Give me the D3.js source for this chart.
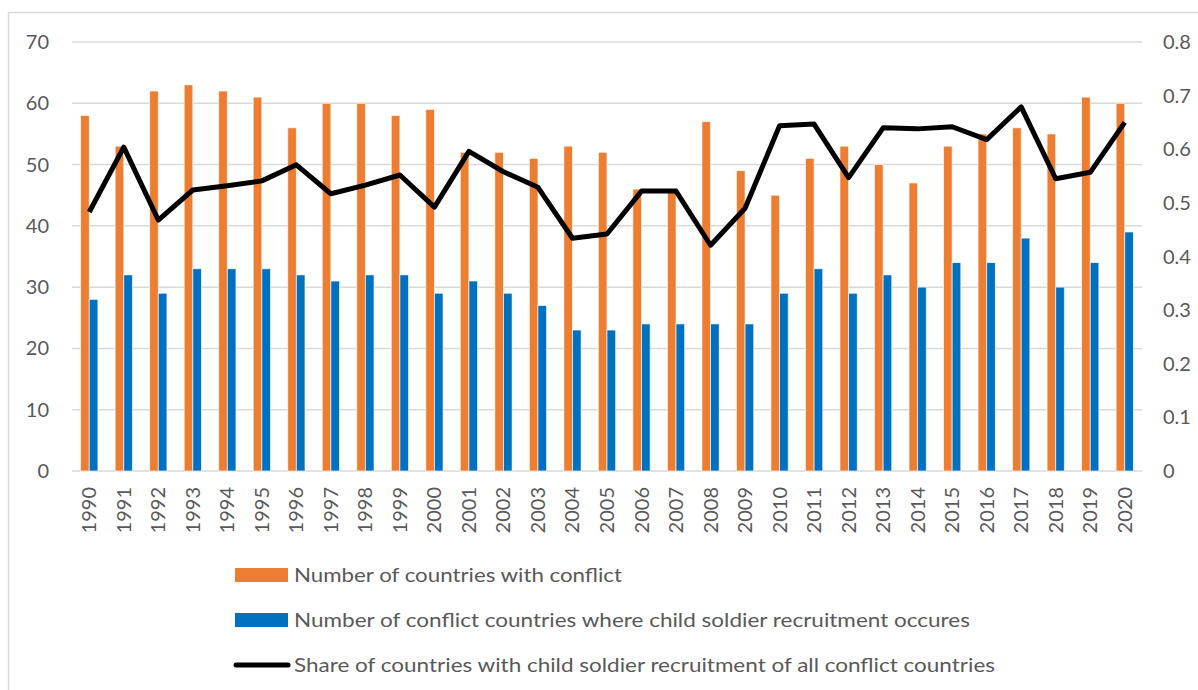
<html>
<head>
  <meta charset="utf-8">
  <script src="https://d3js.org/d3.v7.min.js"></script>
  <style>
    body { margin: 0; background: #fff; }
    text { font-family: Lato, "Open Sans", sans-serif; fill: #595959; }
  </style>
</head>
<body>
<div id="chartContainer"></div>
<script>
"use strict";

var years = ["1990","1991","1992","1993","1994","1995","1996","1997","1998","1999",
             "2000","2001","2002","2003","2004","2005","2006","2007","2008","2009",
             "2010","2011","2012","2013","2014","2015","2016","2017","2018","2019","2020"];

// countries with conflict
var conflict = [58,53,62,63,62,61,56,60,60,58,59,52,52,51,53,52,46,46,57,49,45,51,53,50,47,53,55,56,55,61,60];

// conflict countries with child soldier recruitment
var recruit = [28,32,29,33,33,33,32,31,32,32,29,31,29,27,23,23,24,24,24,24,29,33,29,32,30,34,34,38,30,34,39];

// share (right axis)
var share = [0.483,0.604,0.468,0.524,0.532,0.541,0.571,0.517,0.533,0.552,0.492,0.596,0.558,0.529,0.434,
             0.442,0.522,0.522,0.421,0.490,0.644,0.647,0.547,0.640,0.638,0.642,0.618,0.679,0.545,0.557,0.650];

var leftTicks = [0,10,20,30,40,50,60,70];
var rightTicks = [0,0.1,0.2,0.3,0.4,0.5,0.6,0.7,0.8];

var legendItems = [
  {label: "Number of countries with conflict", type: "bar", color: "#ED7D31", len: 328},
  {label: "Number of conflict countries where child soldier recruitment occures", type: "bar", color: "#0070C0", len: 676},
  {label: "Share of countries with child soldier recruitment of all conflict countries", type: "line", color: "#000", len: 701}
];

var W = 1198, H = 690;
var plot = {left: 72, right: 1142, top: 42, bottom: 471};

var svg = d3.select("#chartContainer").append("svg")
    .attr("width", W).attr("height", H);

// chart border (runs off the right and bottom)
svg.append("rect")
    .attr("x", 8.5).attr("y", 12.5)
    .attr("width", W + 10).attr("height", H + 10)
    .attr("fill", "none").attr("stroke", "#D9D9D9").attr("stroke-width", 1.5);

var x = d3.scaleBand().domain(years).range([plot.left, plot.right]).padding(0);
var yL = d3.scaleLinear().domain([0, 70]).range([plot.bottom, plot.top]);
var yR = d3.scaleLinear().domain([0, 0.8]).range([plot.bottom, plot.top]);

// gridlines
svg.append("g").selectAll("line")
    .data(leftTicks)
    .enter().append("line")
    .attr("x1", plot.left).attr("x2", plot.right)
    .attr("y1", function (d) { return yL(d); })
    .attr("y2", function (d) { return yL(d); })
    .attr("stroke", "#D9D9D9").attr("stroke-width", 1.5);

// left axis labels
svg.append("g").selectAll("text")
    .data(leftTicks)
    .enter().append("text")
    .attr("x", 49)
    .attr("y", function (d) { return yL(d); })
    .attr("dy", "0.35em")
    .attr("text-anchor", "end")
    .style("font-size", "20px")
    .text(function (d) { return d; });

// right axis labels
svg.append("g").selectAll("text")
    .data(rightTicks)
    .enter().append("text")
    .attr("x", 1163)
    .attr("y", function (d) { return yR(d); })
    .attr("dy", "0.35em")
    .style("font-size", "20px")
    .text(function (d) { return d === 0 ? "0" : d3.format(".1f")(d); });

// year labels, rotated
svg.append("g").selectAll("text")
    .data(years)
    .enter().append("text")
    .attr("transform", function (d) {
        return "translate(" + (x(d) + x.bandwidth() / 2) + ",487) rotate(-90)";
    })
    .attr("dy", "0.35em")
    .attr("text-anchor", "end")
    .style("font-size", "20px")
    .text(function (d) { return d; });

var bw = x.bandwidth() * 0.25;

svg.append("g").selectAll("rect")
    .data(conflict)
    .enter().append("rect")
    .attr("x", function (d, i) { return x(years[i]) + x.bandwidth() / 2 - bw; })
    .attr("y", function (d) { return yL(d); })
    .attr("width", bw)
    .attr("height", function (d) { return yL(0) - yL(d); })
    .attr("fill", "#ED7D31")
    .attr("stroke", "#fff").attr("stroke-width", 0.9).attr("stroke-opacity", 0.7);

svg.append("g").selectAll("rect")
    .data(recruit)
    .enter().append("rect")
    .attr("x", function (d, i) { return x(years[i]) + x.bandwidth() / 2; })
    .attr("y", function (d) { return yL(d); })
    .attr("width", bw)
    .attr("height", function (d) { return yL(0) - yL(d); })
    .attr("fill", "#0070C0")
    .attr("stroke", "#fff").attr("stroke-width", 0.9).attr("stroke-opacity", 0.7);

var line = d3.line()
    .x(function (d, i) { return x(years[i]) + x.bandwidth() / 2; })
    .y(function (d) { return yR(d); });

svg.append("path")
    .datum(share)
    .attr("d", line)
    .attr("fill", "none")
    .attr("stroke", "#000")
    .attr("stroke-width", 5)
    .attr("stroke-linejoin", "round");

// legend
var leg = svg.append("g").selectAll("g")
    .data(legendItems)
    .enter().append("g")
    .attr("transform", function (d, i) { return "translate(0," + (575 + i * 45) + ")"; });

leg.filter(function (d) { return d.type === "bar"; })
    .append("rect")
    .attr("x", 235).attr("y", -7)
    .attr("width", 53).attr("height", 14)
    .attr("fill", function (d) { return d.color; });

leg.filter(function (d) { return d.type === "line"; })
    .append("line")
    .attr("x1", 236).attr("x2", 288)
    .attr("y1", 0).attr("y2", 0)
    .attr("stroke", "#000").attr("stroke-width", 5)
    .attr("stroke-linecap", "round");

leg.append("text")
    .attr("x", 294).attr("y", 0)
    .attr("dy", "0.35em")
    .attr("textLength", function (d) { return d.len; })
    .attr("lengthAdjust", "spacingAndGlyphs")
    .style("font-size", "19px")
    .text(function (d) { return d.label; });
</script>
</body>
</html>
